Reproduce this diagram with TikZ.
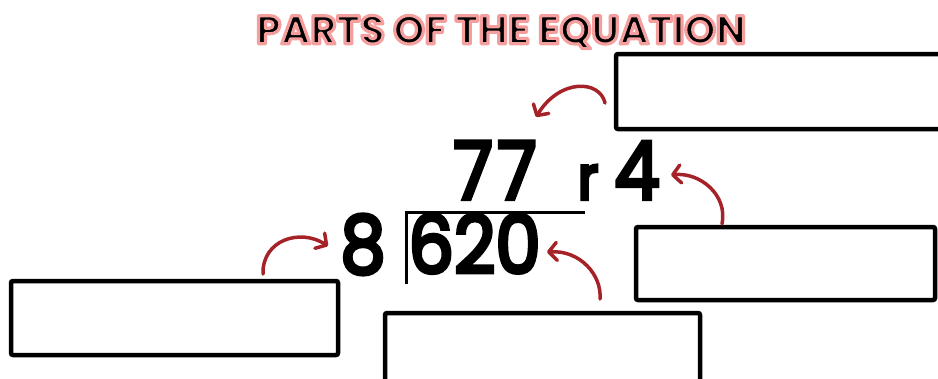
\documentclass[tikz,border=0pt]{standalone}
\usepackage{fontspec}
\setmainfont{Poppins}
\usetikzlibrary{arrows.meta,calc}
\definecolor{arrowred}{RGB}{165,35,40}
\newcommand{\glowtext}[1]{\special{pdf:literal direct 2 Tr 3.2 w 1 J 1 j 0.96 0.62 0.62 RG}#1\special{pdf:literal direct 0 Tr}}
\newcommand{\heavy}[1]{\special{pdf:literal direct 2 Tr 4 w 0 j 0 0 0 RG}#1\special{pdf:literal direct 0 Tr}}
\newcommand{\narrow}[1]{\scalebox{0.9}[1]{\heavy{#1}}}
\tikzset{
  answerbox/.style={draw=black, line width=4.5pt, rounded corners=2pt, minimum width=#1, inner sep=0pt},
  digit/.style={inner sep=0pt, anchor=base, font=\fontsize{80}{80}\selectfont},
  remr/.style={inner sep=0pt, anchor=base, font=\fontsize{60}{60}\selectfont},
  titletext/.style={inner sep=0pt, font=\fontsize{40}{40}\selectfont\bfseries},
  curvearrow/.style={draw=arrowred, line width=3.5pt, line cap=round, -{Straight Barb[length=8pt,width=18pt,round]}},
}
\begin{document}
\begin{tikzpicture}[x=1pt,y=-1pt]
\useasboundingbox (0,0) rectangle (938,378);
% title with glow
\node[titletext, text=black] (title) at (501,32) {\glowtext{PARTS OF THE EQUATION}};
% boxes
\node[answerbox=326pt, minimum height=75pt] (box1) at (779,91.5) {};
\node[answerbox=299pt, minimum height=73pt] (box2) at (785.5,263.5) {};
\node[answerbox=327pt, minimum height=74pt] (box3) at (174.5,318) {};
\node[answerbox=315pt, minimum height=80pt] (box4) at (542.5,353) {};
% numbers
\node[digit] (quot) at (495,199) {\narrow{7\hspace{5pt}7}};
\node[remr] (rr) at (588,199) {\narrow{r}};
\node[digit] (rem) at (637,199) {\narrow{4}};
\node[digit] (divisor) at (363,273) {\narrow{8}};
\node[digit] (dividend) at (474.5,273) {\narrow{620}};
% division bracket
\coordinate (brb) at (406,284);
\coordinate (brc) at (406,212);
\coordinate (bre) at (585,212);
\draw[line width=3pt] (brb) -- (brc) -- (bre);
% arrows
\coordinate (s1) at (605,103); \coordinate (e1) at (536,117);
\coordinate (s2) at (722,224); \coordinate (e2) at (671,175);
\coordinate (s3) at (600,299); \coordinate (e3) at (547,252);
\coordinate (s4) at (263,274); \coordinate (e4) at (328,246);
\draw[curvearrow] (s1) .. controls (600,80) and (560,78) .. (e1);
\draw[curvearrow] (s2) .. controls (728,195) and (700,172) .. (e2);
\draw[curvearrow] (s3) .. controls (602,275) and (580,250) .. (e3);
\draw[curvearrow] (s4) .. controls (262,240) and (300,228) .. (e4);
\end{tikzpicture}
\end{document}
